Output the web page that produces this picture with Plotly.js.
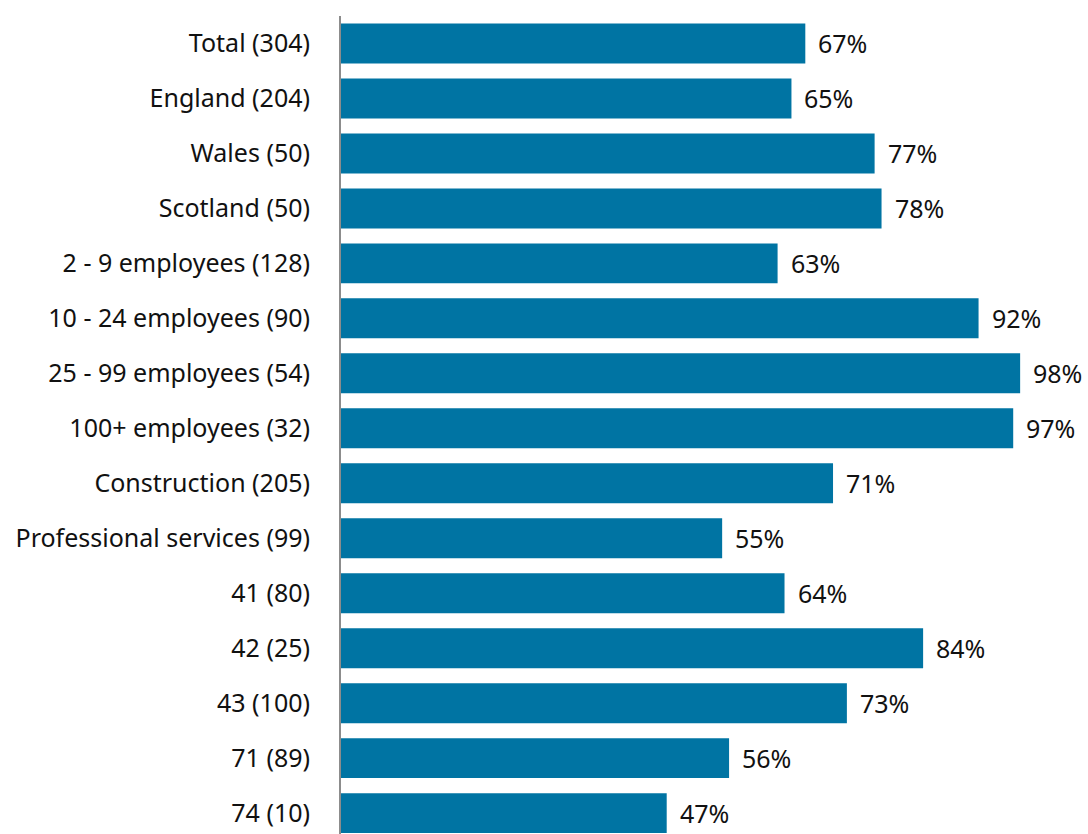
<!DOCTYPE html>
<html>
<head>
<meta charset="utf-8">
<script src="https://cdn.plot.ly/plotly-3.0.1.min.js"></script>
<style>html,body{margin:0;padding:0;background:#fff;}#chart{width:1088px;height:834px;}</style>
</head>
<body>
<div id="chart"></div>
<script>
const categories = ["Total (304)","England (204)","Wales (50)","Scotland (50)","2 - 9 employees (128)","10 - 24 employees (90)","25 - 99 employees (54)","100+ employees (32)","Construction (205)","Professional services (99)","41 (80)","42 (25)","43 (100)","71 (89)","74 (10)"];
const values = [67,65,77,78,63,92,98,97,71,55,64,84,73,56,47];
const labels = values.map(v => v + "%");

const FONT = "Noto Sans, Open Sans, sans-serif";
const trace = {
  type: "bar",
  orientation: "h",
  y: categories,
  x: values,
  marker: {color: "#0074A3"},
  hoverinfo: "none"
};
const annotations = categories.map((c, i) => ({
  x: values[i], y: c, xref: "x", yref: "y",
  text: labels[i], showarrow: false, xanchor: "left", xshift: 11,
  font: {family: FONT, size: 25, color: "#111"}
}));
const layout = {
  width: 1088, height: 834,
  margin: {l: 341, r: 54, t: 15.5, b: 0},
  paper_bgcolor: "#fff", plot_bgcolor: "#fff",
  showlegend: false,
  bargap: 0.273,
  xaxis: {range: [0, 100], visible: false, fixedrange: true},
  yaxis: {
    type: "category",
    range: [14.38, -0.5],
    showline: true, linecolor: "#8c8c8c", linewidth: 2,
    showgrid: false, zeroline: false, ticks: "",
    ticklabelstandoff: 24,
    tickfont: {family: FONT, size: 25, color: "#111"}
  },
  annotations: annotations
};
Plotly.newPlot("chart", [trace], layout, {staticPlot: true});
</script>
</body>
</html>
